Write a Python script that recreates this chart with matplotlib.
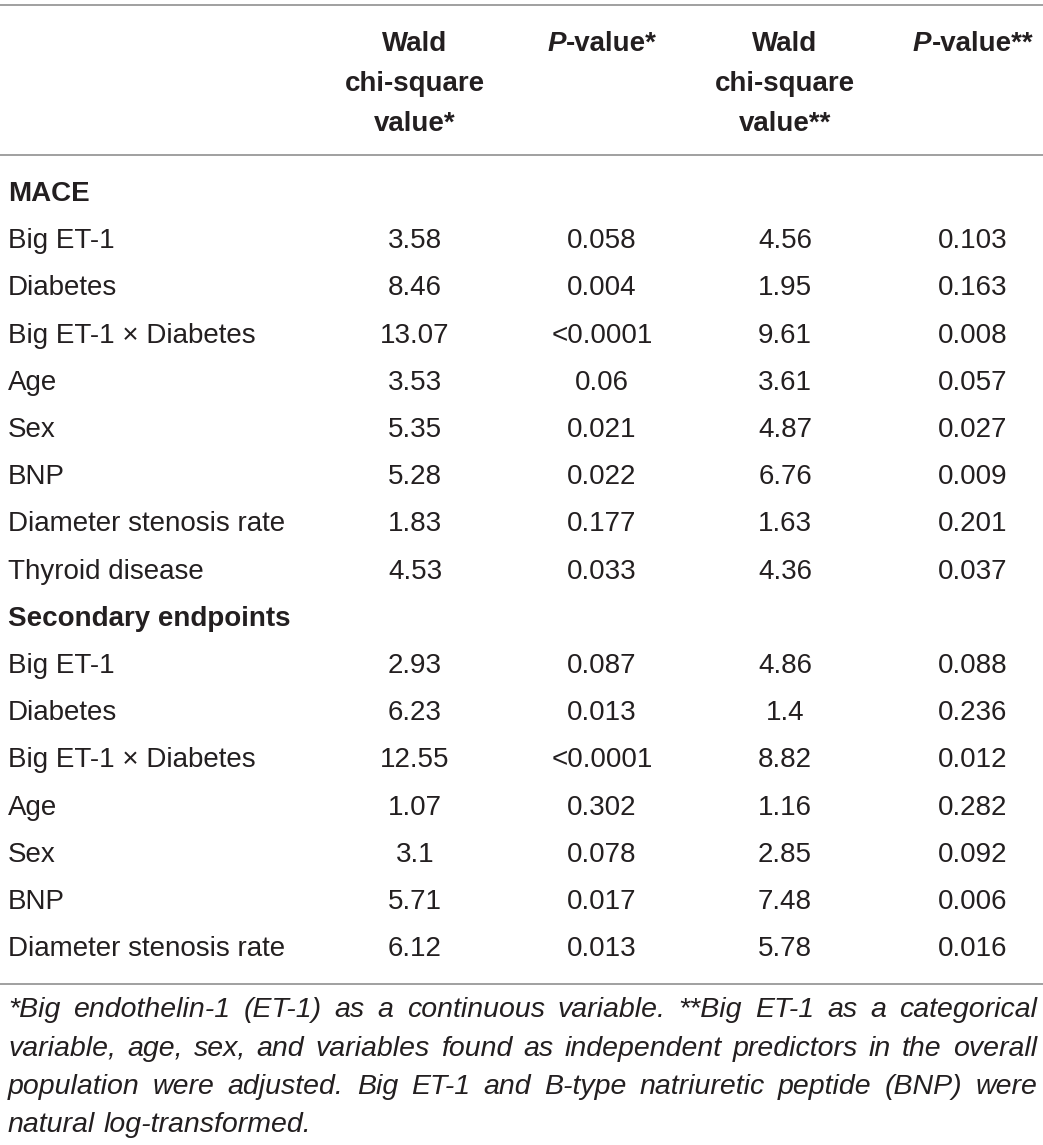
import numpy as np
import matplotlib
matplotlib.use("Agg")
import matplotlib.pyplot as plt

# %% Data
GROUPS = ["MACE", "Secondary endpoints"]

MACE_VARS = ["Big ET-1", "Diabetes", "Big ET-1 \u00d7 Diabetes", "Age", "Sex", "BNP",
             "Diameter stenosis rate", "Thyroid disease"]
MACE_WALD_CONT = ["3.58", "8.46", "13.07", "3.53", "5.35", "5.28", "1.83", "4.53"]
MACE_P_CONT = ["0.058", "0.004", "<0.0001", "0.06", "0.021", "0.022", "0.177", "0.033"]
MACE_WALD_CAT = ["4.56", "1.95", "9.61", "3.61", "4.87", "6.76", "1.63", "4.36"]
MACE_P_CAT = ["0.103", "0.163", "0.008", "0.057", "0.027", "0.009", "0.201", "0.037"]

SEC_VARS = ["Big ET-1", "Diabetes", "Big ET-1 \u00d7 Diabetes", "Age", "Sex", "BNP",
            "Diameter stenosis rate"]
SEC_WALD_CONT = ["2.93", "6.23", "12.55", "1.07", "3.1", "5.71", "6.12"]
SEC_P_CONT = ["0.087", "0.013", "<0.0001", "0.302", "0.078", "0.017", "0.013"]
SEC_WALD_CAT = ["4.86", "1.4", "8.82", "1.16", "2.85", "7.48", "5.78"]
SEC_P_CAT = ["0.088", "0.236", "0.012", "0.282", "0.092", "0.006", "0.016"]

FOOTNOTE_LINES = [
    "*Big endothelin-1 (ET-1) as a continuous variable. **Big ET-1 as a categorical",
    "variable, age, sex, and variables found as independent predictors in the overall",
    "population were adjusted. Big ET-1 and B-type natriuretic peptide (BNP) were",
    "natural log-transformed.",
]

# %% Style
FONT = "Liberation Sans"
INK = "#231f20"
RULE = "#a0a0a0"
W, H = 1043, 1145
FS = 20
COL_X = [415, 602, 785, 973]
LABEL_X = 8
ROW0_BASE = 201
ROW_STEP = 47.2

fig = plt.figure(figsize=(W / 100, H / 100), dpi=100)
ax = fig.add_axes([0, 0, 1, 1])
ax.set_xlim(0, W)
ax.set_ylim(H, 0)
ax.axis("off")
renderer = fig.canvas.get_renderer()


def txt(x, y, s, **kw):
    kw.setdefault("fontsize", FS)
    kw.setdefault("color", INK)
    kw.setdefault("family", FONT)
    kw.setdefault("va", "baseline")
    return ax.text(x, y, s, **kw)


def width(t):
    return t.get_window_extent(renderer).width


# %% Rules
for y in (5, 155, 984):
    ax.plot([0, W], [y, y], color=RULE, lw=1.4, solid_capstyle="butt")

# %% Header
header_base = [51, 91, 131]
for cx, lines in ((COL_X[0], ["Wald", "chi-square", "value*"]),
                  (COL_X[2], ["Wald", "chi-square", "value**"])):
    for yb, s in zip(header_base, lines):
        txt(cx, yb, s, ha="center", weight="bold")

for cx, suffix in ((COL_X[1], "-value*"), (COL_X[3], "-value**")):
    p = txt(0, header_base[0], "P", weight="bold", style="italic")
    rest = txt(0, header_base[0], suffix, weight="bold")
    wp, wr = width(p), width(rest)
    x0 = cx - (wp + wr) / 2
    p.set_x(x0)
    rest.set_x(x0 + wp)

# %% Body
rows = [("group", GROUPS[0])]
rows += [("data", r) for r in zip(MACE_VARS, MACE_WALD_CONT, MACE_P_CONT, MACE_WALD_CAT, MACE_P_CAT)]
rows += [("group", GROUPS[1])]
rows += [("data", r) for r in zip(SEC_VARS, SEC_WALD_CONT, SEC_P_CONT, SEC_WALD_CAT, SEC_P_CAT)]

for i, (kind, content) in enumerate(rows):
    yb = ROW0_BASE + i * ROW_STEP
    if kind == "group":
        txt(LABEL_X, yb, content, weight="bold")
    else:
        txt(LABEL_X, yb, content[0])
        for cx, val in zip(COL_X, content[1:]):
            txt(cx, yb, val, ha="center")

# %% Footnote (justified)
fn_base = [1017, 1055.5, 1094, 1132]
x_left, x_right = 8, 1037
fn_fs = 20.5
while True:
    widths = []
    for line in FOOTNOTE_LINES[:-1]:
        t = txt(0, -100, line, fontsize=fn_fs, style="italic")
        widths.append(width(t))
        t.remove()
    if max(widths) <= (x_right - x_left) - 4:
        break
    fn_fs -= 0.1

for k, (yb, line) in enumerate(zip(fn_base, FOOTNOTE_LINES)):
    words = line.split(" ")
    objs = [txt(0, yb, w_, fontsize=fn_fs, style="italic") for w_ in words]
    ws = [width(o) for o in objs]
    if k < len(FOOTNOTE_LINES) - 1:
        gap = ((x_right - x_left) - sum(ws)) / (len(words) - 1)
    else:
        sp = txt(0, -100, "a a", fontsize=fn_fs, style="italic")
        a = txt(0, -100, "aa", fontsize=fn_fs, style="italic")
        gap = width(sp) - width(a)
        sp.remove()
        a.remove()
    x = x_left
    for o, w_ in zip(objs, ws):
        o.set_x(x)
        x += w_ + gap

fig.savefig("out.png", dpi=100)
